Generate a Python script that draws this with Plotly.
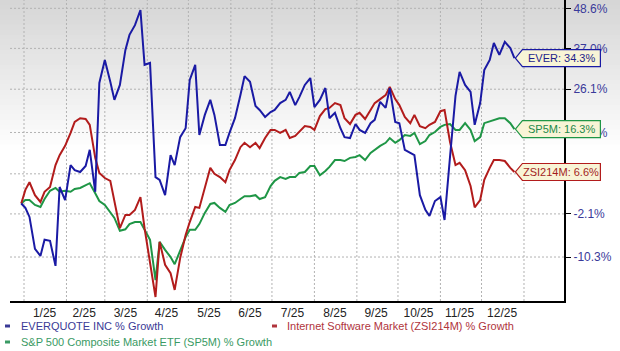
import math
import pandas as pd
import plotly.graph_objects as go

dates = ["2024-12-30","2025-01-02","2025-01-05","2025-01-09","2025-01-13","2025-01-16","2025-01-20","2025-01-24","2025-01-27","2025-01-31",
         "2025-02-04","2025-02-07","2025-02-11","2025-02-15","2025-02-18","2025-02-22","2025-02-25","2025-03-01","2025-03-05","2025-03-08",
         "2025-03-12","2025-03-16","2025-03-19","2025-03-23","2025-03-27","2025-03-30","2025-04-03","2025-04-07","2025-04-10","2025-04-14",
         "2025-04-18","2025-04-21","2025-04-25","2025-04-29","2025-05-02","2025-05-06","2025-05-09","2025-05-13","2025-05-17","2025-05-20",
         "2025-05-24","2025-05-28","2025-05-31","2025-06-04","2025-06-08","2025-06-11","2025-06-15","2025-06-19","2025-06-22","2025-06-26",
         "2025-06-30","2025-07-03","2025-07-07","2025-07-11","2025-07-14","2025-07-18","2025-07-21","2025-07-25","2025-07-29","2025-08-01",
         "2025-08-05","2025-08-09","2025-08-12","2025-08-16","2025-08-20","2025-08-23","2025-08-27","2025-08-31","2025-09-03","2025-09-07",
         "2025-09-11","2025-09-14","2025-09-18","2025-09-22","2025-09-25","2025-09-29","2025-10-02","2025-10-06","2025-10-10","2025-10-13",
         "2025-10-17","2025-10-21","2025-10-24","2025-10-28","2025-11-01","2025-11-04","2025-11-08","2025-11-12","2025-11-15","2025-11-19",
         "2025-11-23","2025-11-26","2025-11-30","2025-12-03","2025-12-07","2025-12-10","2025-12-14","2025-12-18","2025-12-22","2025-12-25"]

ever = [0.0, -0.9, -2.7, -8.8, -10.1, -7.1, -7.3, -11.9, 3.4, 0.7,
        8.1, 7.0, 6.6, 7.9, 11.5, 2.4, 27.7, 33.8, 28.0, 23.4,
        27.2, 36.5, 40.8, 43.6, 48.1, 32.5, 33.0, 5.5, 4.9, 1.7,
        10.3, 8.1, 14.4, 16.5, 28.5, 32.5, 14.9, 19.7, 23.4, 19.7,
        12.6, 12.6, 15.4, 18.9, 24.6, 29.5, 28.0, 21.9, 20.9, 19.2,
        20.4, 20.9, 22.6, 23.4, 25.4, 22.1, 24.1, 27.2, 29.0, 21.6,
        23.4, 26.4, 18.9, 20.2, 16.5, 14.4, 14.2, 17.5, 16.1, 15.4,
        17.7, 18.5, 22.9, 21.4, 26.4, 18.0, 17.7, 11.5, 10.8, 10.3,
        1.7, -1.3, -2.5, 0.5, 1.3, -3.3, 9.9, 24.4, 30.6, 27.2,
        25.4, 17.3, 22.6, 31.1, 33.8, 38.5, 35.2, 38.8, 37.1, 34.3]

zsi = [0.0, 2.8, 4.4, 1.7, 0.3, 2.4, 3.4, 8.1, 10.3, 12.4,
       15.4, 18.0, 18.9, 18.7, 17.3, 9.7, 6.4, 5.3, 4.7, 0.7,
       -4.9, -2.3, -2.3, -1.3, 1.3, -4.9, -11.2, -17.3, -7.5, -11.7,
       -13.2, -16.1, -10.5, -6.2, -3.7, -0.7, -0.9, 3.4, 7.5, 6.2,
       5.5, 4.4, 7.0, 9.2, 12.1, 13.1, 12.1, 13.1, 11.9, 14.2,
       16.1, 16.1, 15.4, 16.1, 14.2, 14.7, 15.6, 17.0, 16.8, 16.1,
       19.4, 21.1, 21.4, 22.6, 22.1, 18.9, 17.5, 19.7, 20.2, 18.7,
       20.9, 22.6, 23.6, 24.6, 26.7, 23.6, 22.1, 19.2, 17.7, 19.7,
       17.0, 16.5, 17.3, 18.0, 20.6, 20.9, 13.3, 8.1, 8.6, 7.0,
       3.6, -0.8, 0.7, 4.9, 7.5, 9.2, 9.2, 9.0, 7.5, 6.6]

sp5m = [0.0, 0.7, 0.7, -0.3, -0.7, 0.9, 2.6, 3.2, 2.4, 2.6,
        2.4, 3.0, 3.2, 3.8, 4.2, 2.1, 0.5, -0.3, -1.9, -2.9,
        -5.4, -5.1, -4.1, -3.7, -3.7, -5.2, -7.1, -14.4, -7.5, -9.0,
        -10.3, -11.6, -9.0, -6.6, -5.2, -5.2, -4.1, -1.9, -0.1, 0.1,
        -0.9, -1.7, -0.3, 0.1, 0.9, 1.5, 1.5, 1.7, 0.9, 1.3,
        3.6, 4.7, 5.5, 5.1, 5.5, 5.5, 6.4, 6.6, 7.9, 7.9,
        5.9, 6.8, 7.7, 9.2, 9.2, 9.0, 9.7, 9.9, 10.3, 9.2,
        10.8, 11.5, 12.4, 13.1, 14.2, 13.1, 13.7, 14.9, 14.7, 15.4,
        12.8, 13.5, 14.9, 15.6, 16.8, 17.3, 17.5, 16.1, 16.1, 17.7,
        16.1, 13.5, 14.4, 17.7, 18.2, 18.5, 18.9, 18.9, 17.7, 16.3]

month_starts = ["2025-01-01","2025-02-01","2025-03-01","2025-04-01","2025-05-01","2025-06-01","2025-07-01",
                "2025-08-01","2025-09-01","2025-10-01","2025-11-01","2025-12-01","2026-01-01"]
label_dates = ["2025-01-16","2025-02-14","2025-03-16","2025-04-15","2025-05-16","2025-06-15",
               "2025-07-16","2025-08-16","2025-09-15","2025-10-16","2025-11-15","2025-12-16"]
month_labels = ["1/25","2/25","3/25","4/25","5/25","6/25","7/25","8/25","9/25","10/25","11/25","12/25"]

y_ticks = [-10.3, -2.1, 6.2, 15.5, 26.1, 37.0, 48.6]

series_names = ["EVERQUOTE INC % Growth",
                "Internet Software Market (ZSI214M) % Growth",
                "S&P 500 Composite Market ETF (SP5M) % Growth"]
flag_names = ["EVER", "ZSI214M", "SP5M"]

assert len(dates) == len(ever) == len(zsi) == len(sp5m)

W, H = 620, 351
ML, MR, MT, MB = 10, 56, 0, 50
PW, PH = W - ML - MR, H - MT - MB

x_range = ["2024-12-21 18:40", "2026-01-30 05:00"]
y_lo, y_hi = 0.8204, 1.5113
y_range = [math.log10(y_lo), math.log10(y_hi)]

line_colors = ["#1a1aa4", "#b21c1c", "#1f9646"]
text_colors = ["#1e1e8a", "#a31d1d", "#23894a"]
legend_colors = ["#3a3a96", "#b0343c", "#3a9a64"]
grid_color = "#b2b2b2"

def factor(v):
    return [1 + a / 100.0 for a in v]

fig = go.Figure()
all_series = [ever, zsi, sp5m]

shapes = []
# grey-to-white background gradient at top (drawn behind everything)
nb = 30
grad_px = 150
for k in range(nb):
    t0 = k / nb
    t1 = (k + 1) / nb
    g = int(round(214 + (255 - 214) * t0))
    shapes.append(dict(type="rect", xref="paper", yref="paper",
                       x0=-ML / PW, x1=(W - ML) / PW,
                       y0=1 - (t1 * grad_px) / PH, y1=1 - (t0 * grad_px) / PH + 0.001,
                       fillcolor=f"rgb({g},{g},{g})", line=dict(width=0), layer="below"))

# dotted gridlines as a background line trace (month starts and y ticks)
gx, gy = [], []
for ms in month_starts:
    gx += [ms, ms, None]
    gy += [y_lo, y_hi, None]
for v in y_ticks:
    gx += [x_range[0], x_range[1], None]
    gy += [1 + v / 100.0, 1 + v / 100.0, None]
fig.add_trace(go.Scatter(x=gx, y=gy, mode="lines", hoverinfo="skip", showlegend=False,
                         connectgaps=False,
                         line=dict(color=grid_color, width=1, dash="2px,2px")))

order = [2, 1, 0]
for i in order:
    fig.add_trace(go.Scatter(x=dates, y=factor(all_series[i]), mode="lines",
                             name=series_names[i],
                             line=dict(color=line_colors[i], width=2),
                             showlegend=False))

# flags at the last values
x0 = pd.Timestamp(x_range[0]); x1 = pd.Timestamp(x_range[1])
annotations = []
for i in [0, 2, 1]:
    last_date = pd.Timestamp(dates[-1])
    last_val = all_series[i][-1]
    xa = (last_date - x0) / (x1 - x0)
    shapes.append(dict(type="path", xref="paper", yref="y",
                       xsizemode="pixel", ysizemode="pixel",
                       xanchor=xa, yanchor=1 + last_val / 100.0,
                       path="M 1,0 L 8,8.5 L 86,8.5 L 86,-8.5 L 8,-8.5 Z",
                       fillcolor="#f8f4d6", line=dict(color=line_colors[i], width=1.2),
                       layer="above"))
    annotations.append(dict(x=dates[-1], y=math.log10(1 + last_val / 100.0), xref="x", yref="y",
                            text=f"{flag_names[i]}: {last_val:.1f}%", showarrow=False,
                            xanchor="center", yanchor="middle", xshift=47,
                            font=dict(family="Liberation Sans, Arial", size=11, color=text_colors[i])))

# legend (bottom)
leg_pos = [(19, 326, 5), (285, 326, 272), (19, 342, 5)]
for i in range(3):
    tx, ty, mx = leg_pos[i]
    annotations.append(dict(x=(tx - ML) / PW, y=(PH - (ty - MT)) / PH, xref="paper", yref="paper",
                            text=series_names[i], showarrow=False, xanchor="left", yanchor="middle",
                            font=dict(family="Liberation Sans, Arial", size=11, color=legend_colors[i])))
    shapes.append(dict(type="line", xref="paper", yref="paper",
                       x0=(mx - ML) / PW, x1=(mx + 5 - ML) / PW,
                       y0=(PH - (ty - MT)) / PH, y1=(PH - (ty - MT)) / PH,
                       line=dict(color=legend_colors[i], width=3)))

fig.update_layout(
    width=W, height=H,
    margin=dict(l=ML, r=MR, t=MT, b=MB),
    paper_bgcolor="white", plot_bgcolor="rgba(0,0,0,0)",
    showlegend=False,
    shapes=shapes, annotations=annotations,
    font=dict(family="Liberation Sans, Arial", size=12),
    xaxis=dict(type="date", range=x_range,
               tickmode="array", tickvals=label_dates, ticktext=month_labels,
               ticks="", showgrid=False,
               tickfont=dict(size=12, color="#222222"),
               showline=True, linecolor="black", linewidth=2,
               zeroline=False, fixedrange=True),
    yaxis=dict(type="log", range=y_range, side="right",
               tickmode="array", tickvals=factor(y_ticks),
               ticktext=[f"{v:.1f}%" for v in y_ticks],
               tickfont=dict(size=12, color="#3a3a9a"),
               ticks="outside", ticklen=5, tickcolor="black", tickwidth=1,
               showline=True, linecolor="black", linewidth=2,
               showgrid=False,
               zeroline=False, fixedrange=True),
)

fig.write_html("out.html")
